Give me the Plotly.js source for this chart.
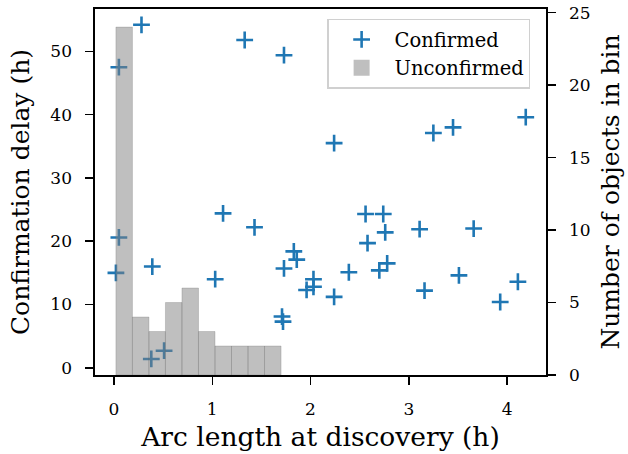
<!DOCTYPE html>
<html>
<head>
<meta charset="utf-8">
<script src="https://cdn.plot.ly/plotly-3.0.1.min.js"></script>
<style>html,body{margin:0;padding:0;background:#fff;}#chart{width:628px;height:454px;}</style>
</head>
<body>
<div id="chart"></div>
<script>
// Confirmed objects: arc length at discovery (h) vs confirmation delay (h)
const confirmedArc = [0.02, 0.05, 0.05, 0.28, 0.39, 0.38, 0.51, 1.03, 1.11, 1.33, 1.43, 1.73, 1.71, 1.72, 1.73, 1.83, 1.86, 1.96, 2.03, 2.03, 2.24, 2.24, 2.39, 2.56, 2.74, 2.58, 2.76, 2.70, 2.78, 3.11, 3.16, 3.25, 3.45, 3.51, 3.66, 3.93, 4.11, 4.19];
const confirmedDelay = [15.0, 20.6, 47.5, 54.2, 16.0, 1.4, 2.7, 14.0, 24.4, 51.8, 22.2, 49.4, 8.1, 7.3, 15.7, 18.4, 17.1, 12.3, 14.0, 12.8, 11.2, 35.5, 15.1, 24.3, 24.3, 19.7, 21.4, 15.4, 16.5, 21.9, 12.2, 37.1, 38.0, 14.6, 22.0, 10.4, 13.6, 39.6];

// Unconfirmed objects: histogram of arc length (bin edges and counts)
const binEdges = [0.02, 0.188, 0.356, 0.524, 0.692, 0.86, 1.028, 1.196, 1.364, 1.532, 1.70];
const binCounts = [24, 4, 3, 5, 6, 3, 2, 2, 2, 2];

const xTicks = [0, 1, 2, 3, 4];
const yTicks = [0, 10, 20, 30, 40, 50];
const y2Ticks = [0, 5, 10, 15, 20, 25];

const binCenters = binCounts.map((_, i) => (binEdges[i] + binEdges[i + 1]) / 2);
const binWidths = binCounts.map((_, i) => binEdges[i + 1] - binEdges[i]);

const FONT = 'DejaVu Serif';
const BLUE = '#1f77b4';

const traces = [
  {
    type: 'scatter', mode: 'markers', name: 'Confirmed',
    x: confirmedArc, y: confirmedDelay, xaxis: 'x', yaxis: 'y',
    marker: {symbol: 'cross-thin', size: 12, color: BLUE, line: {color: BLUE, width: 2.6}}
  },
  {
    type: 'bar', name: 'Unconfirmed', showlegend: false,
    x: binCenters, y: binCounts, width: binWidths, xaxis: 'x', yaxis: 'y2',
    marker: {color: 'rgba(128,128,128,0.5)', line: {color: 'rgba(110,110,110,0.35)', width: 0.8}}
  },
  {
    // legend entry for the histogram (larger swatch, no data drawn)
    type: 'scatter', mode: 'markers', name: 'Unconfirmed',
    x: [null], y: [null], xaxis: 'x', yaxis: 'y2',
    marker: {symbol: 'square', size: 16, color: '#bfbfbf', line: {width: 0}}
  }
];

const axisCommon = {
  showgrid: false, zeroline: false, showline: true, linecolor: '#000', linewidth: 1.6,
  ticks: 'outside', ticklen: 8, tickwidth: 1.5, tickcolor: '#000',
  tickfont: {family: FONT, size: 17, color: '#000'},
  ticklabelstandoff: 10
};
const titleFont = {family: FONT, size: 25, color: '#000'};

const layout = {
  width: 628, height: 454,
  margin: {l: 95, r: 82, t: 9, b: 79},
  paper_bgcolor: '#fff', plot_bgcolor: '#fff',
  font: {family: FONT, color: '#000'},
  bargap: 0,
  showlegend: true,
  xaxis: Object.assign({}, axisCommon, {
    range: [-0.193, 4.396], tickvals: xTicks, mirror: true,
    title: {text: 'Arc length at discovery (h)', font: {family: FONT, size: 26.5, color: '#000'}, standoff: 9}
  }),
  yaxis: Object.assign({}, axisCommon, {
    range: [-1.14, 56.7], tickvals: yTicks, mirror: true,
    title: {text: 'Confirmation delay (h)', font: titleFont, standoff: 13}
  }),
  yaxis2: Object.assign({}, axisCommon, {
    overlaying: 'y', side: 'right', anchor: 'x',
    range: [0, 25.25], tickvals: y2Ticks,
    title: {text: 'Number of objects in bin', font: titleFont, standoff: 12}
  }),
  legend: {
    x: 0.965, y: 0.973, xanchor: 'right', yanchor: 'top',
    bgcolor: 'rgba(255,255,255,0.85)', bordercolor: '#d0d0d0', borderwidth: 1.4,
    font: {family: FONT, size: 19.5, color: '#000'},
    itemwidth: 56, tracegroupgap: 0
  }
};

Plotly.newPlot('chart', traces, layout, {displayModeBar: false, staticPlot: true});
</script>
</body>
</html>
